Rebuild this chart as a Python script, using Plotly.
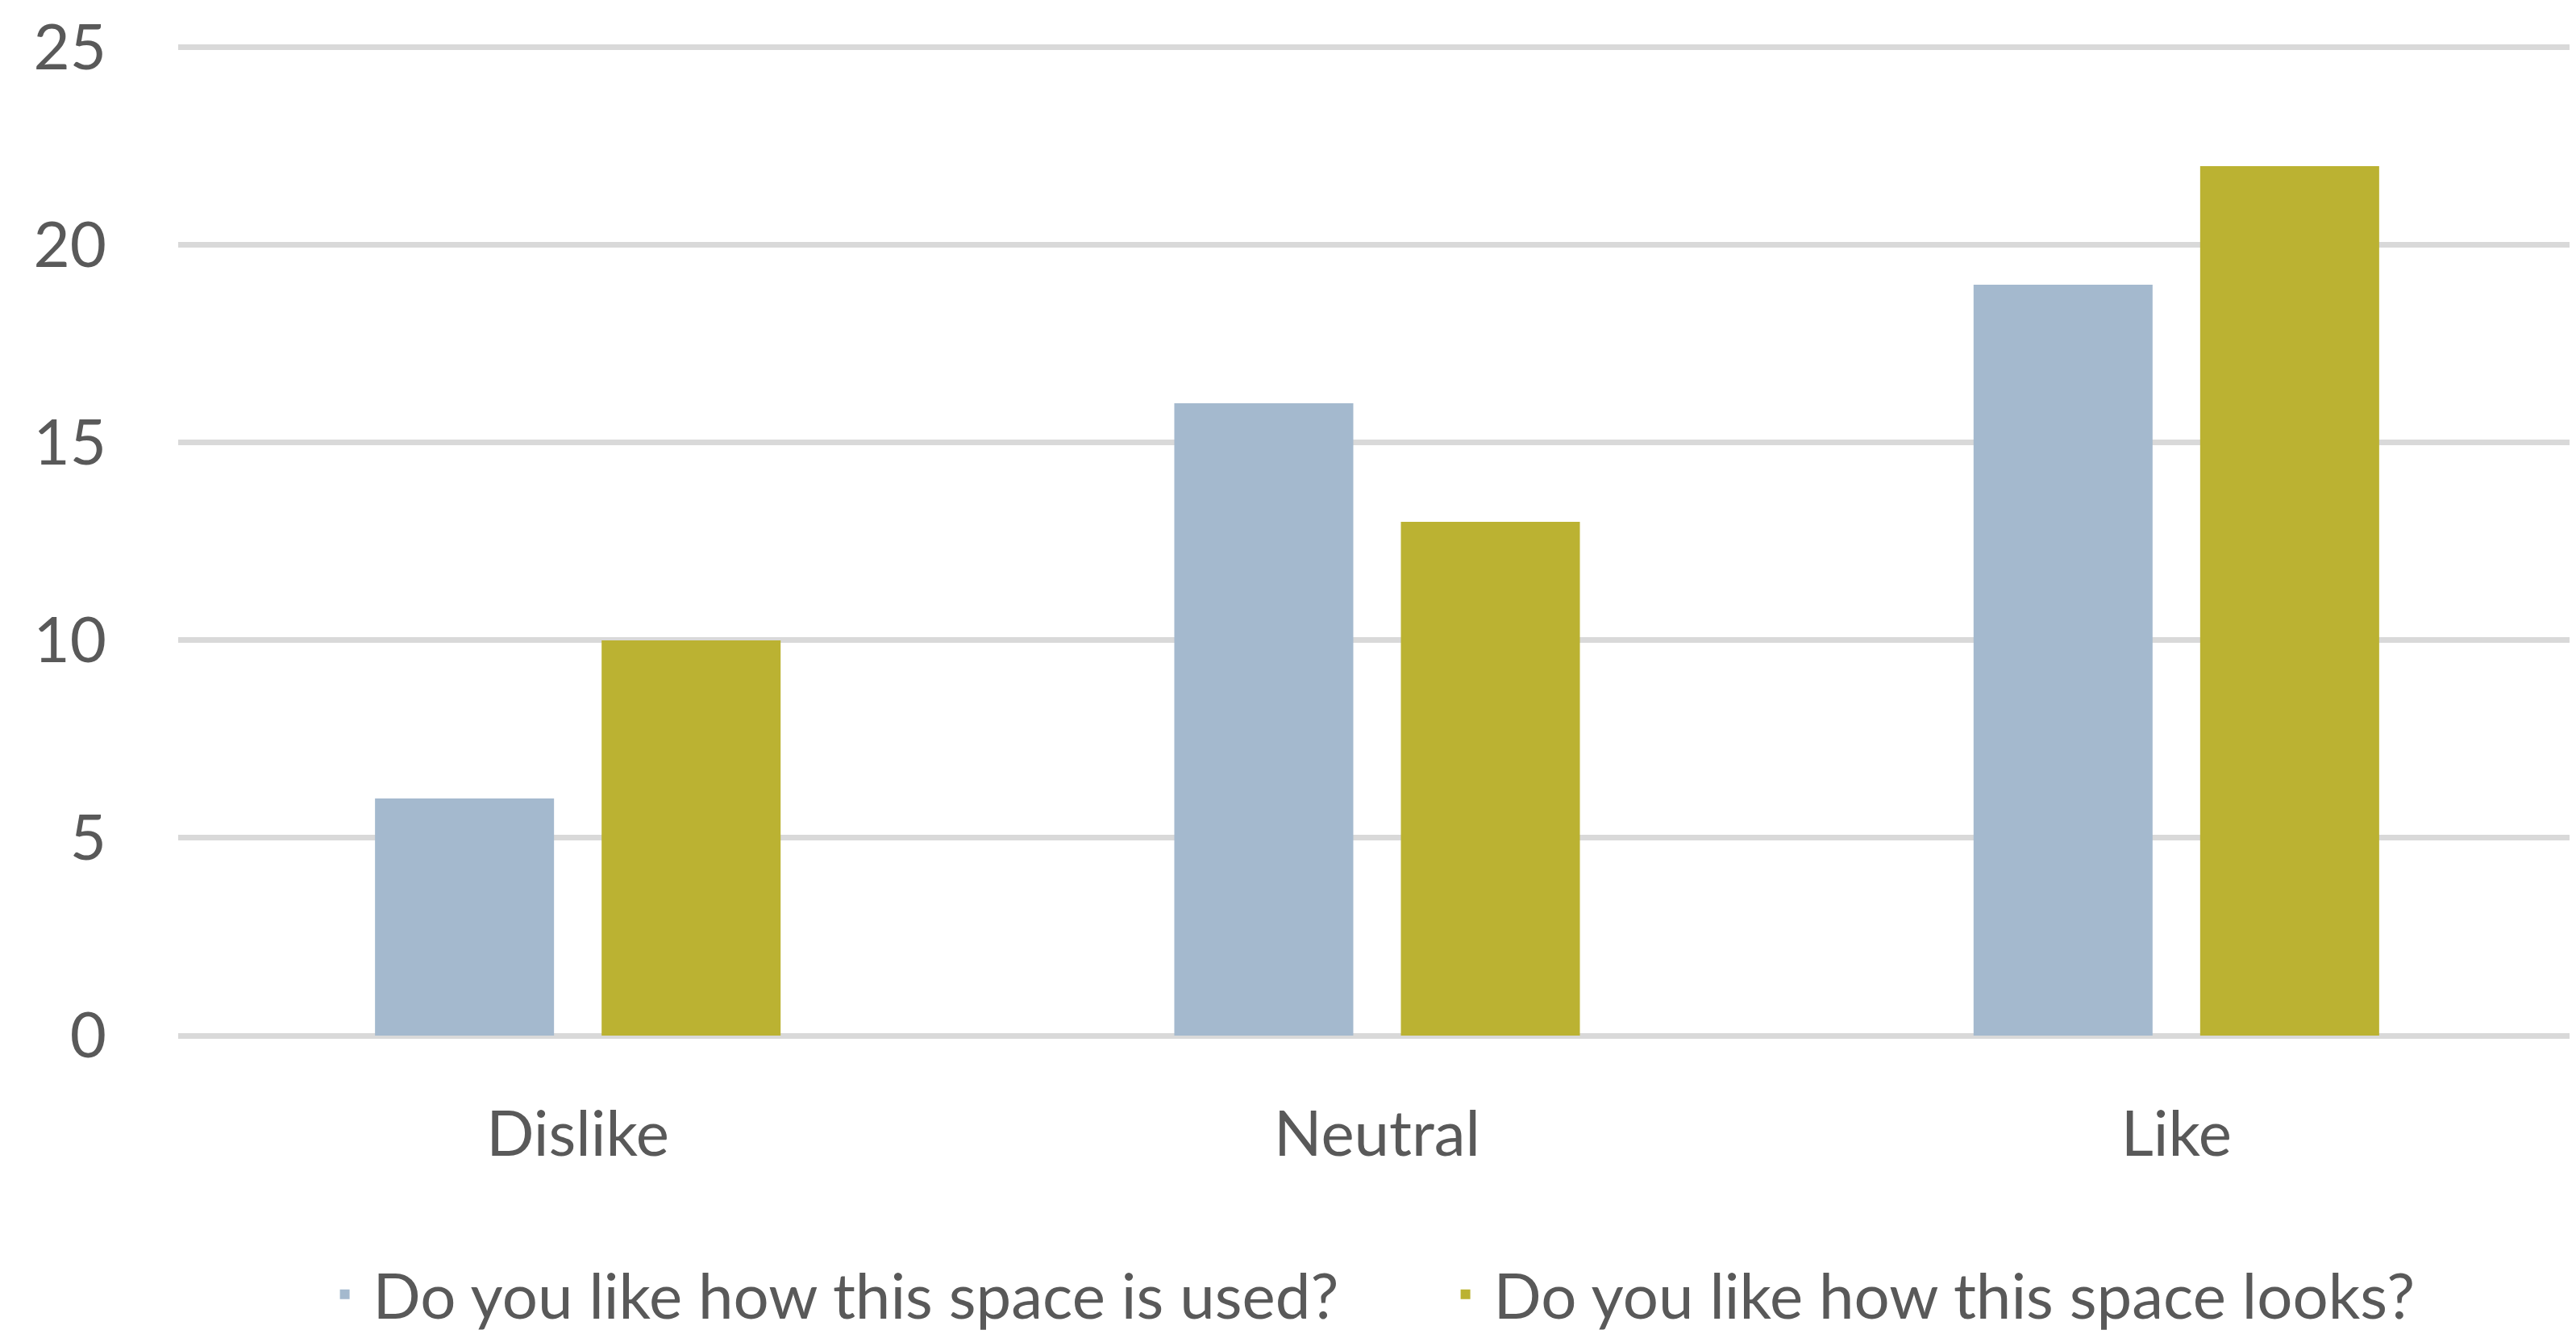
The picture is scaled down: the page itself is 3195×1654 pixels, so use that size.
import plotly.graph_objects as go

categories = ["Dislike", "Neutral", "Like"]
used_values = [6, 16, 19]
looks_values = [10, 13, 22]
series_names = ["Do you like how this space is used?", "Do you like how this space looks?"]
y_ticks = [0, 5, 10, 15, 20, 25]

BLUE = "#A4B9CE"
GREEN = "#BBB232"
TEXT = "#595959"
GRID = "#D9D9D9"
FONT = "Lato, 'Open Sans', sans-serif"

fig = go.Figure()
fig.add_trace(go.Bar(x=categories, y=used_values, name=series_names[0],
                     marker=dict(color=BLUE, line=dict(width=0))))
fig.add_trace(go.Bar(x=categories, y=looks_values, name=series_names[1],
                     marker=dict(color=GREEN, line=dict(width=0))))

fig.update_layout(
    width=3195, height=1654,
    margin=dict(l=213, r=8, t=46, b=378, autoexpand=False),
    paper_bgcolor="white", plot_bgcolor="white",
    barmode="group", bargap=0.433, bargroupgap=0.21,
    font=dict(family=FONT, size=78, color=TEXT),
    showlegend=True,
    legend=dict(orientation="h", x=0.0577, xanchor="left", y=-0.261, yanchor="middle",
                font=dict(size=78, color=TEXT), itemwidth=60, entrywidth=1315,
                tracegroupgap=0, bgcolor="rgba(0,0,0,0)"),
    xaxis=dict(showgrid=False, showline=False, ticks="", automargin=False,
               tickfont=dict(size=78, color=TEXT), ticklabelstandoff=70),
    yaxis=dict(range=[0, 25.1], tickvals=y_ticks, showgrid=True, gridcolor=GRID, gridwidth=6.5,
               zeroline=True, zerolinecolor=GRID, zerolinewidth=6.5, showline=False, ticks="",
               automargin=False, tickfont=dict(size=78, color=TEXT), ticklabelstandoff=88),
)

fig.write_html("out.html")
